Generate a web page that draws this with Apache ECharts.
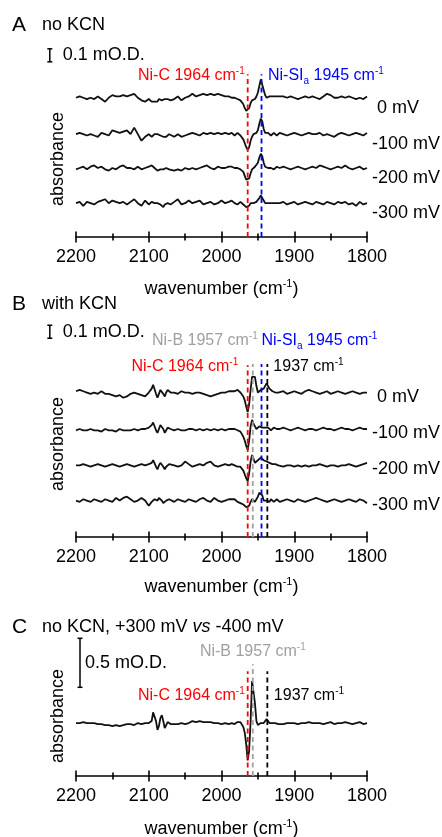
<!DOCTYPE html>
<html><head><meta charset="utf-8">
<script src="https://cdn.jsdelivr.net/npm/echarts@6/dist/echarts.min.js"></script>
<style>html,body{margin:0;padding:0;background:#fff}#c{width:442px;height:837px}</style>
</head><body><div id="c"></div>
<script>
// ---------------- DATA (absorbance in units of 0.01 mO.D.) ----------------
const wavenumber = [
 2200,2195,2190,2185,2180,2175,2170,2165,2160,2155,2150,2145,2140,2135,2130,2125,2120,2115,2110,2105,2100,
 2098,2096,2094,2092,2090,2088,2086,2084,2082,2080,2078,2076,2074,2072,2070,
 2065,2060,2055,2050,2045,2040,2035,2030,2025,2020,2015,2010,2005,2000,1995,1990,
 1988,1986,1984,1982,1980,1978,1976,1974,1972,1970,1968,1966,1964,1962,1960,1958,1956,1954,1952,1950,1948,1946,1944,1942,1940,1938,1936,1934,1932,1930,1928,1926,1924,1922,
 1920,1915,1910,1905,1900,1895,1890,1885,1880,1875,1870,1865,1860,1855,1850,1845,1840,1835,1830,1825,1820,1815,1810,1805,1800
];
const potentialLabels = ['0 mV', '-100 mV', '-200 mV', '-300 mV'];

// Panel A: no KCN
const A_0mV = [
 0,1,0,-1,0,-1,1,-1,-3,0,2,1,1,2,1,2,3,0,-2,-3,-1,
 -2,-3,-2,-3,-4,-3,-1,-1,-2,-2,-1,0,-1,-2,-2,
 -1,1,-2,0,1,3,1,2,3,2,3,2,3,2,1,1,
 1,0,1,0,0,-1,-1,-2,-3,-5,-8,-10,-11,-8,-4,-2,-1,-1,1,4,9,14,13,6,2,0,0,1,0,1,0,1,0,1,
 0,1,0,1,0,-1,0,1,0,1,0,-1,1,3,2,0,0,1,0,1,0,-1,0,-1,1
];
const A_m100mV = [
 0,1,0,-1,0,-1,-2,1,0,-1,3,2,1,2,3,0,5,0,-5,-2,0,
 -1,-2,-1,0,1,0,-1,-1,-2,-2,-1,-2,-1,0,0,
 -2,0,-2,-1,0,1,0,-1,1,0,1,0,1,0,1,0,
 0,1,0,-1,0,1,0,-1,-2,-4,-7,-10,-12,-10,-5,-2,0,0,1,3,8,12,10,4,1,0,1,0,-1,0,1,0,-1,0,
 1,0,-1,0,1,0,-1,0,1,0,0,1,-1,0,-1,-2,0,1,0,-1,0,1,0,-1,1
];
const A_m200mV = [
 -1,0,1,-1,1,2,0,1,-1,-2,0,-1,1,2,0,0,-1,1,-1,0,1,
 2,2,1,0,-1,-2,-2,-1,-1,-1,0,0,-1,-1,-1,
 -2,-1,-2,0,-1,0,-1,0,1,2,0,-1,1,0,0,1,
 0,1,0,0,-1,0,0,-1,-2,-3,-6,-9,-10,-8,-4,-1,0,1,1,4,8,11,9,4,1,0,0,1,0,0,-1,0,1,0,
 0,1,0,-1,0,1,0,-1,0,1,0,2,1,0,-1,0,1,0,2,0,-1,0,1,-1,0
];
const A_m300mV = [
 0,1,-2,1,0,-1,1,2,3,0,2,1,0,1,-1,1,3,0,-2,2,-1,
 0,1,1,0,-1,0,0,-1,-2,-3,-1,0,0,-1,-1,
 1,3,-1,0,2,0,1,2,-1,0,1,-1,0,2,0,1,
 1,2,1,0,-1,-1,0,1,0,-1,-2,-3,-3,-2,0,1,0,1,1,2,4,6,5,2,0,-1,0,1,0,-1,0,1,0,-1,
 0,1,-1,0,1,-1,0,1,0,-1,1,0,-1,1,0,-1,1,0,1,-1,0,-2,1,-1,0
];

// Panel B: with KCN
const B_0mV = [
 1,2,1,0,-1,0,-1,1,-1,-1,-2,-3,-2,-4,-3,-1,0,-1,-2,-3,0,
 1,3,6,5,-1,-4,-1,2,3,-1,-3,0,2,1,0,
 0,-1,1,0,0,-1,0,0,-1,-2,-3,-2,-1,0,0,1,
 0,1,0,1,1,2,1,0,-1,-3,-6,-11,-15,-9,2,12,13,12,5,0,1,2,3,3,4,7,6,3,2,1,2,0,1,0,
 0,1,-1,0,1,0,-1,1,2,1,0,-1,0,1,-1,0,1,0,-1,0,1,0,-1,0,0
];
const B_m100mV = [
 -1,0,-1,-1,0,-1,-1,-2,0,-1,-1,-2,0,-1,-1,-1,0,-1,0,0,1,
 1,3,5,4,-1,-3,0,3,4,0,-3,-1,1,1,0,
 -1,0,-1,-1,0,0,-1,0,-1,0,-1,0,-1,0,-1,0,
 0,0,-1,0,0,-1,-1,-2,-4,-6,-9,-13,-16,-9,2,7,4,2,0,1,2,3,1,0,1,0,1,0,-1,0,1,0,0,-1,
 0,1,0,-1,0,1,0,-1,0,0,-1,0,1,0,0,-1,0,1,0,0,-1,0,1,0,0
];
const B_m200mV = [
 0,0,1,0,-1,0,1,0,-1,0,1,0,-1,0,1,0,-1,0,1,0,1,
 1,2,4,3,-1,-3,0,2,2,-1,-3,-1,0,1,1,
 0,-1,0,3,1,-1,0,1,0,2,3,0,-1,0,1,0,
 0,1,0,0,0,-1,-1,-1,-2,-4,-7,-10,-12,-6,3,8,5,2,3,4,5,6,5,4,3,3,2,2,1,1,0,1,0,0,
 0,-1,0,0,-1,0,-1,0,-1,0,0,1,0,-1,0,0,-1,0,0,1,0,-1,0,1,2
];
const B_m300mV = [
 0,-1,1,0,-1,1,0,-1,1,0,-1,2,0,2,3,1,-1,0,2,0,-4,
 -3,-1,0,1,1,0,2,2,0,-2,-1,0,1,1,1,
 -1,1,0,-1,1,0,-1,1,2,0,-1,2,0,-1,0,1,
 0,1,2,1,0,-1,-2,-2,-3,-3,-4,-5,-6,-4,-1,1,0,-1,1,3,6,7,4,0,-1,0,0,-1,1,0,-1,0,1,0,
 -1,0,1,0,-1,1,0,-1,0,1,2,1,0,-1,0,1,0,-1,0,1,0,-1,1,0,-2
];

// Panel C: no KCN, +300 mV vs -400 mV
const C_diff = [
 0,0,1,0,0,0,-1,-1,-2,-2,-3,-2,-3,-2,-1,-1,-2,0,-1,0,0,
 0,2,11,13,2,-7,-3,5,8,2,-5,-2,1,0,-1,
 -1,-1,0,-1,0,2,1,2,1,1,1,0,0,-1,0,-1,
 -1,0,0,-1,0,1,2,1,-1,-4,-10,-22,-38,-28,2,43,45,20,2,-2,-1,0,-1,0,1,4,3,0,-1,0,-1,0,0,-1,
 0,-1,0,0,0,-1,0,0,1,0,0,0,-1,0,1,-1,0,0,1,0,-1,0,1,-1,0
];

// band positions (cm-1)
const bandNiC = 1964, bandNiSIa = 1945, bandNiB = 1957, band1937 = 1937;
const xTicks = [2200, 2100, 2000, 1900, 1800];

// ---------------- LAYOUT / STYLE ----------------
const FONT = '"Liberation Sans", Arial, Helvetica, sans-serif';
const RED = '#ff0000', BLUE = '#0000ff', GRAY = '#a0a0a0', BLACK = '#000000';

const panels = [
  { grid: {left: 76, right: 75, top: 60, height: 177}, yMax: 136,
    traces: [A_0mV, A_m100mV, A_m200mV, A_m300mV], labels: potentialLabels,
    offsets: [107, 79, 53, 26], labelDy: 10, nameGap: 41,
    lines: [{w: bandNiC, c: RED, top: 125}, {w: bandNiSIa, c: BLUE, top: 125}],
    letter: 'A', letterY: 25, title: '{t|no KCN}',
    bar: {w: 2236, v: 134.6, len: 10, text: '0.1 mO.D.', dx: 13},
    ylabY: 159,
    ann: [
      {w: bandNiC, dx: -3, y: 76, align: 'right', color: RED, text: '{t|Ni-C 1964 cm}{sup|-1}'},
      {w: bandNiSIa, dx: 6.5, y: 76, align: 'left', color: BLUE, text: '{t|Ni-SI}{sub|a}{t| 1945 cm}{sup|-1}'}
    ]},
  { grid: {left: 76, right: 75, top: 360, height: 177}, yMax: 136,
    traces: [B_0mV, B_m100mV, B_m200mV, B_m300mV], labels: potentialLabels,
    offsets: [111, 83, 55, 28], labelDy: 4, nameGap: 39,
    lines: [{w: bandNiC, c: RED, top: 132}, {w: bandNiB, c: GRAY, top: 133},
            {w: bandNiSIa, c: BLUE, top: 133}, {w: band1937, c: BLACK, top: 133}],
    letter: 'B', letterY: 304, title: '{t|with KCN}',
    bar: {w: 2236, v: 152.7, len: 10, text: '0.1 mO.D.', dx: 13},
    ylabY: 444,
    ann: [
      {w: bandNiB, dx: 5, y: 341, align: 'right', color: GRAY, text: '{t|Ni-B 1957 cm}{sup|-1}'},
      {w: bandNiSIa, dx: 0, y: 341, align: 'left', color: BLUE, text: '{t|Ni-SI}{sub|a}{t| 1945 cm}{sup|-1}'},
      {w: bandNiC, dx: -9.5, y: 367, align: 'right', color: RED, text: '{t|Ni-C 1964 cm}{sup|-1}'},
      {w: band1937, dx: 6, y: 367, align: 'left', color: BLACK, text: '{t|1937 cm}{sup|-1}'}
    ]},
  { grid: {left: 76, right: 75, top: 656, height: 120}, yMax: 122.45,
    traces: [C_diff], labels: [],
    offsets: [54], labelDy: 0, nameGap: 42,
    lines: [{w: bandNiC, c: RED, top: 107}, {w: bandNiB, c: GRAY, top: 114}, {w: band1937, c: BLACK, top: 107}],
    letter: 'C', letterY: 627, title: '{t|no KCN, +300 mV }{i|vs}{t| -400 mV}',
    bar: {w: 2194.5, v: 90.5, len: 50, text: '0.5 mO.D.', dx: 5},
    ylabY: 716,
    ann: [
      {w: bandNiB, dx: 0, y: 652, align: 'center', color: GRAY, text: '{t|Ni-B 1957 cm}{sup|-1}'},
      {w: bandNiC, dx: -3, y: 696, align: 'right', color: RED, text: '{t|Ni-C 1964 cm}{sup|-1}'},
      {w: band1937, dx: 6.5, y: 696, align: 'left', color: BLACK, text: '{t|1937 cm}{sup|-1}'}
    ]}
];

function richStyles(color, size, supSize) {
  return {
    t: {fontSize: size, fontFamily: FONT, color: color, fill: color, lineHeight: size + 4},
    i: {fontSize: size, fontFamily: FONT, color: color, fill: color, fontStyle: 'italic', lineHeight: size + 4},
    sup: {fontSize: supSize, fontFamily: FONT, color: color, fill: color, verticalAlign: 'top', lineHeight: supSize + 2},
    sub: {fontSize: supSize, fontFamily: FONT, color: color, fill: color, verticalAlign: 'bottom', lineHeight: supSize + 2}
  };
}

const grids = [], xAxes = [], yAxes = [], series = [];
panels.forEach((p, g) => {
  grids.push(Object.assign({outerBoundsMode: 'none', containLabel: false}, p.grid));
  const common = {
    type: 'value', gridIndex: g, inverse: true, min: 1800, max: 2200, interval: 100,
    position: 'bottom', splitLine: {show: false},
    axisTick: {show: true, length: 5.5, lineStyle: {color: BLACK, width: 1.6}},
    minorTick: {show: true, splitNumber: 2, length: 3.5, lineStyle: {color: BLACK, width: 1.6}},
    minorSplitLine: {show: false}
  };
  xAxes.push(Object.assign({}, common, {
    axisLine: {show: true, onZero: false, lineStyle: {color: BLACK, width: 1.6}},
    axisLabel: {show: true, fontSize: 18, fontFamily: FONT, color: BLACK, margin: 11,
      customValues: xTicks, formatter: v => String(v)},
    name: '{t|wavenumber (cm}{sup|-1}{t|)}', nameLocation: 'middle', nameGap: p.nameGap,
    nameTextStyle: {rich: richStyles(BLACK, 18, 11)}
  }));
  xAxes.push(Object.assign({}, common, {
    axisLine: {show: false, onZero: false},
    axisTick: {show: true, inside: true, length: 5.5, lineStyle: {color: BLACK, width: 1.6}},
    axisLabel: {show: false}
  }));
  yAxes.push({type: 'value', gridIndex: g, min: 0, max: p.yMax, show: false});

  p.traces.forEach((vals, k) => {
    series.push({
      type: 'line', xAxisIndex: 2 * g, yAxisIndex: g, showSymbol: false, symbol: 'none',
      silent: true, z: 2, animation: false,
      lineStyle: {color: '#111', width: 1.8},
      data: wavenumber.map((w, i) => [w, vals[i] + p.offsets[k]])
    });
  });
  p.lines.forEach(L => {
    series.push({
      type: 'line', xAxisIndex: 2 * g, yAxisIndex: g, showSymbol: false, symbol: 'none',
      silent: true, z: 3, animation: false,
      lineStyle: {color: L.c, width: 1.8, type: [5, 3.5]},
      data: [[L.w, 0], [L.w, L.top]]
    });
  });
});

const chart = echarts.init(document.getElementById('c'), null, {renderer: 'canvas'});
chart.setOption({animation: false, backgroundColor: '#fff', grid: grids, xAxis: xAxes, yAxis: yAxes, series: series});

const P = (g, w, v) => chart.convertToPixel({gridIndex: g}, [w, v]);
const gfx = [];
function text(x, y, str, rich, align, vAlign, extra) {
  gfx.push(Object.assign({
    type: 'text', x: x, y: y, silent: true, z: 10,
    style: {text: str, rich: rich, align: align, textAlign: align,
      verticalAlign: vAlign || 'middle', textVerticalAlign: vAlign || 'middle'}
  }, extra || {}));
}
const plainRich = richStyles(BLACK, 18, 11);

panels.forEach((p, g) => {
  text(12, p.letterY, '{L|' + p.letter + '}', {L: {fontSize: 21, fontFamily: FONT, fill: BLACK}}, 'left');
  text(42, p.letterY, p.title, plainRich, 'left');
  const b0 = P(g, p.bar.w, p.bar.v), b1 = P(g, p.bar.w, p.bar.v + p.bar.len);
  const x = b0[0];
  [[x, b0[1], x, b1[1]], [x - 2.5, b0[1], x + 2.5, b0[1]], [x - 2.5, b1[1], x + 2.5, b1[1]]].forEach(s => {
    gfx.push({type: 'line', silent: true, z: 10, shape: {x1: s[0], y1: s[1], x2: s[2], y2: s[3]},
      style: {stroke: BLACK, lineWidth: 1.5}});
  });
  text(x + p.bar.dx, (b0[1] + b1[1]) / 2, '{t|' + p.bar.text + '}', plainRich, 'left');
  text(58, p.ylabY, '{t|absorbance}', plainRich, 'center', 'middle', {rotation: Math.PI / 2});
  p.labels.forEach((lab, k) => {
    const pt = P(g, 1800, p.offsets[k]);
    text(pt[0] + 5 + (lab[0] === '-' ? 0 : 5), pt[1] + p.labelDy, '{t|' + lab + '}', plainRich, 'left');
  });
  p.ann.forEach(a => {
    const pt = P(g, a.w, 0);
    text(pt[0] + a.dx, a.y, a.text, richStyles(a.color, 16, 10), a.align);
  });
});
chart.setOption({graphic: {elements: gfx}});
</script>
</body></html>
